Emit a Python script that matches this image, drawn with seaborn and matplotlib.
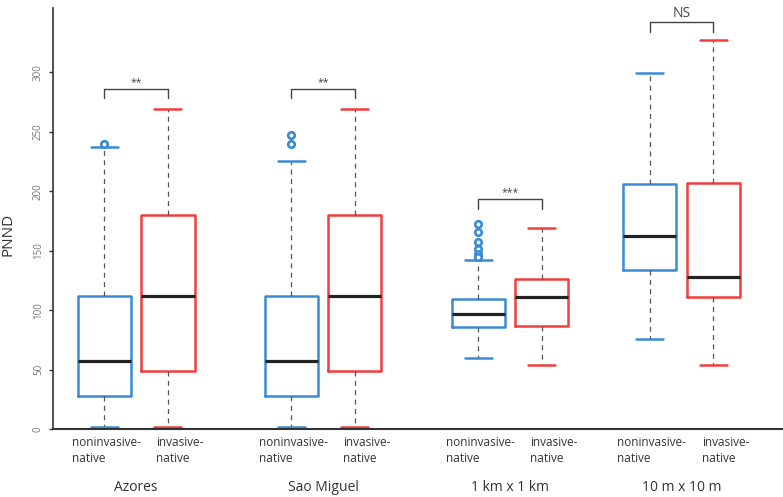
import numpy as np
import pandas as pd
import matplotlib
matplotlib.use("Agg")
import matplotlib.pyplot as plt
import seaborn as sns

# Box summaries, order: group x type
groups = ["Azores", "Sao Miguel", "1 km x 1 km", "10 m x 10 m"]
types = ["noninvasive-native", "invasive-native"]
type_labels = ["noninvasive-\nnative", "invasive-\nnative"]

box_group = ["Azores", "Azores", "Sao Miguel", "Sao Miguel",
             "1 km x 1 km", "1 km x 1 km", "10 m x 10 m", "10 m x 10 m"]
box_type = types * 4
whisker_low = [2, 2, 2, 2, 60, 54, 76, 54]
q1 = [28, 49, 28, 49, 86, 87, 134, 111]
median = [57, 112, 57, 112, 97, 111, 162, 128]
q3 = [112, 180, 112, 180, 109, 126, 206, 207]
whisker_high = [237, 269, 225, 269, 142, 169, 299, 327]

# outliers (all noninvasive-native)
outlier_group = ["Azores", "Sao Miguel", "Sao Miguel",
                 "1 km x 1 km", "1 km x 1 km", "1 km x 1 km",
                 "1 km x 1 km", "1 km x 1 km", "1 km x 1 km"]
outlier_value = [240, 247.5, 240, 172, 166, 157, 151, 147, 145]

# significance brackets
sig_labels = ["**", "**", "***", "NS"]
sig_height = [286, 286, 193, 342]

palette = {"noninvasive-native": "#3a8bd6", "invasive-native": "#f23d3d"}

# layout: where each group sits along x (last group is set a bit closer)
group_pos = {"Azores": 0.0, "Sao Miguel": 1.0, "1 km x 1 km": 2.0,
             "10 m x 10 m": 2.917}
native_w = 0.917  # smallest spacing between groups, seaborn scales widths by it

# long-form table: the five summary numbers of each box
rows = []
for i in range(len(box_group)):
    for v in (whisker_low[i], q1[i], median[i], q3[i], whisker_high[i]):
        rows.append({"group": box_group[i], "type": box_type[i], "value": v})
df = pd.DataFrame(rows)
df["x"] = df["group"].map(group_pos)

sns.set_theme(style="ticks")
plt.rcParams["font.family"] = ["Open Sans", "DejaVu Sans"]

fig = plt.figure(figsize=(7.83, 4.97), dpi=100)
ax = fig.add_axes([53 / 783, 68 / 497, 730 / 783, 421 / 497])

width = 0.68
sns.boxplot(data=df, x="x", y="value", hue="type", native_scale=True,
            hue_order=types, palette=palette, fill=False,
            width=width / native_w, gap=0.16, whis=(0, 100), linewidth=1.8,
            legend=False,
            medianprops={"color": "#222222", "linewidth": 2.3},
            whiskerprops={"color": "#555555", "linewidth": 0.9,
                          "linestyle": (0, (4, 3.5))},
            capprops={"linewidth": 1.8},
            ax=ax)

offset = {types[0]: -width / 4, types[1]: width / 4}

# outliers
ox = [group_pos[g] + offset[types[0]] for g in outlier_group]
sns.scatterplot(x=ox, y=outlier_value, ax=ax, marker="o", s=22,
                facecolor="white", edgecolor=palette[types[0]],
                linewidth=1.9, zorder=5, legend=False)

# significance brackets
tip = 8
for g, lab, h in zip(groups, sig_labels, sig_height):
    x0 = group_pos[g] + offset[types[0]]
    x1 = group_pos[g] + offset[types[1]]
    ax.plot([x0, x0, x1, x1], [h - tip, h, h, h - tip], color="#444444",
            linewidth=1.0, clip_on=False)
    fs = 10 if lab == "NS" else 7.5
    ax.text((x0 + x1) / 2, h + 1, lab, ha="center", va="bottom",
            fontsize=fs, color="#444444")

# category labels under each box, then the group names
trans = ax.get_xaxis_transform()
for g in groups:
    gx = group_pos[g]
    ax.text(gx - 0.343, -0.017, type_labels[0], transform=trans,
            ha="left", va="top", fontsize=8.5, color="#333333", linespacing=1.3)
    ax.text(gx + 0.108, -0.017, type_labels[1], transform=trans,
            ha="left", va="top", fontsize=8.5, color="#333333", linespacing=1.3)
    ax.text(gx, -0.138, g, transform=trans, ha="center", va="center",
            fontsize=10, color="#333333")

ax.set_xlim(-0.444, 3.46)
ax.set_ylim(0, 354)
ax.set_yticks(np.arange(0, 301, 50))
ax.set_xticks([])
ax.set_xlabel("")
ax.set_ylabel("PNND", fontsize=11, color="#333333")
ax.yaxis.set_label_coords(-0.052, 0.463)
ax.tick_params(axis="y", length=3, width=1, color="#333333",
               labelsize=7, labelcolor="#777777")
for lab in ax.get_yticklabels():
    lab.set_rotation(90)
    lab.set_va("center")
sns.despine(ax=ax)
ax.spines["left"].set_linewidth(1.2)
ax.spines["left"].set_color("#333333")
ax.spines["bottom"].set_linewidth(1.5)
ax.spines["bottom"].set_color("#333333")

fig.savefig("out.png", dpi=100)
